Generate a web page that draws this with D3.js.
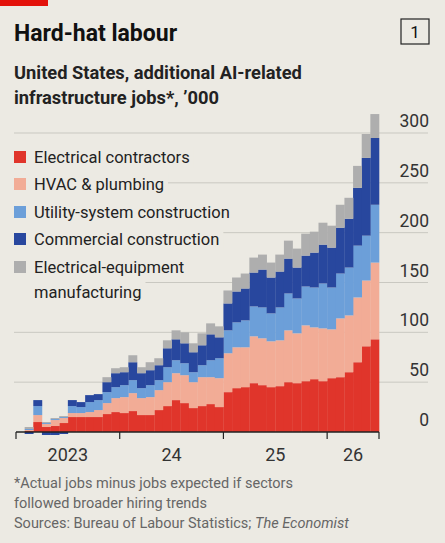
<!DOCTYPE html>
<html><head><meta charset="utf-8">
<script src="https://cdn.jsdelivr.net/npm/d3@7"></script>
<style>body{margin:0;background:#eceae3;}svg{display:block;font-family:Roboto,"Noto Sans",sans-serif;}</style>
</head><body><svg id="c" width="445" height="543"></svg>
<script>
const series = ["Electrical contractors","HVAC & plumbing","Utility-system construction","Commercial construction","Electrical-equipment manufacturing"];
const colors = ["#e0352b","#f2ac96","#6c9fd9","#28479e","#aeaeae"];
const electrical = [1,10,5,6,9,15,15,15,15,18,20,19,21,17,17,22,26,32,29,24,26,28,25,40,44,45,49,47,45,46,50,49,51,53,51,54,55,60,70,86,93];
const hvac       = [1,7,3,6,5,4,4,5,7,11,14,16,18,17,18,20,24,27,28,26,29,27,29,39,41,40,47,47,46,46,52,50,56,52,53,49,59,57,65,66,77];
const utility    = [1,9,1,1,1,7,6,10,10,11,11,12,13,10,12,10,15,13,12,10,12,17,20,23,25,27,30,31,28,33,37,35,39,40,45,42,45,48,52,45,58];
const commercial = [-2,6,-3,-3,-2,6,5,7,6,10,14,13,18,15,15,15,19,21,20,20,20,26,21,27,31,32,34,38,36,36,35,31,31,35,39,40,46,49,58,78,67];
const equipment  = [2,0,1,1,1,0,0,0,0,5,5,5,7,6,8,7,8,9,11,9,12,11,11,13,14,15,15,15,15,17,18,19,22,21,22,22,23,21,22,24,24];
const yTicks = [0,50,100,150,200,250,300];
const xTickMonths = [0,12,24,36,42];
const xLabels = [["2023",6],["24",18],["25",30],["26",39]];

const svg = d3.select("#c");
const x = d3.scaleLinear().domain([0,42]).range([16,379]);
const y = d3.scaleLinear().domain([0,300]).range([432,133]);

svg.append("rect").attr("x",0).attr("y",0).attr("width",48).attr("height",6).attr("fill","#e3120b");
svg.append("text").attr("x",14).attr("y",41).attr("font-size",23).attr("font-weight",700).attr("fill","#111").text("Hard-hat labour");
svg.append("rect").attr("x",401).attr("y",19).attr("width",28).attr("height",25).attr("fill","none").attr("stroke","#222").attr("stroke-width",1.2);
svg.append("text").attr("x",415).attr("y",38).attr("text-anchor","middle").attr("font-size",17).attr("fill","#111").text("1");
svg.append("text").attr("x",14).attr("y",79).attr("font-size",18.3).attr("font-weight",700).attr("fill","#222").text("United States, additional AI-related");
svg.append("text").attr("x",14).attr("y",104).attr("font-size",18.3).attr("font-weight",700).attr("fill","#222").text("infrastructure jobs*, \u2019000");

yTicks.forEach(t=>{
  if(t>0) svg.append("line").attr("x1",14).attr("x2",428).attr("y1",y(t)).attr("y2",y(t)).attr("stroke","#c9c8c1").attr("stroke-width",1);
  svg.append("text").attr("x",429).attr("y",y(t)-6).attr("text-anchor","end").attr("font-size",17.5).attr("fill","#333").text(t);
});

const data = electrical.map((v,i)=>({m:i+1,s0:v,s1:hvac[i],s2:utility[i],s3:commercial[i],s4:equipment[i]}));
const stack = d3.stack().keys(["s0","s1","s2","s3","s4"]).offset(d3.stackOffsetDiverging)(data);

const ly=[157,184,212,239,267];
// legend backgrounds (behind bars)
const lg=svg.append("g");
series.forEach((s,i)=>{
  const lines = i===4?["Electrical-equipment","manufacturing"]:[s];
  lines.forEach((l,j)=>{
    const t=lg.append("text").attr("x",34).attr("y",ly[i]+6+j*25).attr("font-size",16.5).attr("fill","#222").text(l);
    const bb=t.node().getBBox();
    lg.insert("rect","text").attr("x",bb.x-22).attr("y",bb.y-1).attr("width",bb.width+26).attr("height",bb.height+2).attr("fill","#eceae3");
  });
  lg.append("rect").attr("x",14).attr("y",ly[i]-6).attr("width",12).attr("height",12).attr("fill",colors[i]);
});

stack.forEach((layer,k)=>{
  svg.append("g").selectAll("rect").data(layer).join("rect")
    .attr("x",d=>x(d.data.m)).attr("width",d=>x(d.data.m+1)-x(d.data.m)+0.3)
    .attr("y",d=>y(Math.max(d[0],d[1]))).attr("height",d=>Math.abs(y(d[0])-y(d[1])))
    .attr("fill",colors[k]);
});

svg.append("line").attr("x1",x(0)).attr("x2",x(42)).attr("y1",y(0)).attr("y2",y(0)).attr("stroke","#222").attr("stroke-width",1.5);
xTickMonths.forEach(m=>svg.append("line").attr("x1",x(m)).attr("x2",x(m)).attr("y1",y(0)).attr("y2",y(0)+7).attr("stroke","#222").attr("stroke-width",1.2));
xLabels.forEach(([l,m])=>svg.append("text").attr("x",x(m)).attr("y",461).attr("text-anchor","middle").attr("font-size",18).attr("fill","#333").text(l));

const fn=[["*Actual jobs minus jobs expected if sectors",488],["followed broader hiring trends",508]];
fn.forEach(([t,yy])=>svg.append("text").attr("x",14).attr("y",yy).attr("font-size",14.5).attr("fill","#666").text(t));
const s=svg.append("text").attr("x",14).attr("y",528).attr("font-size",14.5).attr("fill","#666");
s.append("tspan").text("Sources: Bureau of Labour Statistics; ");
s.append("tspan").attr("font-style","italic").text("The Economist");
</script></body></html>
